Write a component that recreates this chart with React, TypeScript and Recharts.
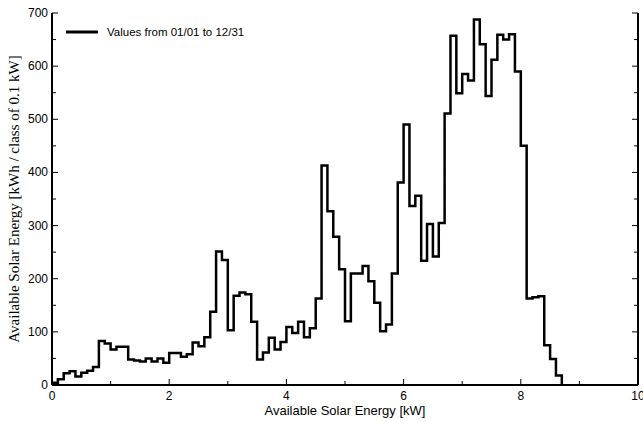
import React from 'react';
import { LineChart, Line, XAxis, YAxis, Legend } from 'recharts';

const binStarts = [
  0.0, 0.1, 0.2, 0.3, 0.4, 0.5, 0.6, 0.7, 0.8, 0.9,
  1.0, 1.1, 1.2, 1.3, 1.4, 1.5, 1.6, 1.7, 1.8, 1.9,
  2.0, 2.1, 2.2, 2.3, 2.4, 2.5, 2.6, 2.7, 2.8, 2.9,
  3.0, 3.1, 3.2, 3.3, 3.4, 3.5, 3.6, 3.7, 3.8, 3.9,
  4.0, 4.1, 4.2, 4.3, 4.4, 4.5, 4.6, 4.7, 4.8, 4.9,
  5.0, 5.1, 5.2, 5.3, 5.4, 5.5, 5.6, 5.7, 5.8, 5.9,
  6.0, 6.1, 6.2, 6.3, 6.4, 6.5, 6.6, 6.7, 6.8, 6.9,
  7.0, 7.1, 7.2, 7.3, 7.4, 7.5, 7.6, 7.7, 7.8, 7.9,
  8.0, 8.1, 8.2, 8.3, 8.4, 8.5, 8.6, 8.7,
];

const energyValues = [
  4, 11, 22, 26, 16, 23, 27, 34, 83, 78,
  67, 72, 72, 48, 46, 44, 50, 44, 50, 42,
  60, 60, 53, 58, 80, 73, 90, 138, 251, 235,
  103, 168, 174, 171, 119, 48, 61, 89, 67, 81,
  109, 98, 119, 90, 107, 163, 413, 327, 279, 218,
  120, 210, 210, 224, 195, 155, 101, 114, 210, 381,
  490, 337, 356, 234, 303, 242, 305, 511, 657, 549,
  585, 573, 688, 641, 544, 612, 659, 650, 660, 590,
  450, 163, 165, 167, 75, 49, 18, 0,
];

const xTicks = [0, 1, 2, 3, 4, 5, 6, 7, 8, 9, 10];
const yTicks = [0, 50, 100, 150, 200, 250, 300, 350, 400, 450, 500, 550, 600, 650, 700];

const seriesName = 'Values from 01/01 to 12/31';
const xTitle = 'Available Solar Energy [kW]';
const yTitle = 'Available Solar Energy [kWh / class of 0.1 kW]';

const data = binStarts.map((x, i) => ({ x, v: energyValues[i] }));

const SANS = '"Liberation Sans", Arial, sans-serif';
const SERIF = '"Liberation Serif", "Times New Roman", serif';

const BottomTick = (props: any) => {
  const { x, y, payload } = props;
  const major = payload.value % 2 === 0;
  return (
    <g>
      <line x1={x} y1={y} x2={x} y2={y - (major ? 6 : 4)} stroke="#000" strokeWidth={1} />
      {major && (
        <text x={x} y={y + 15} textAnchor="middle" fontSize={12} fontFamily={SANS} fill="#000">
          {payload.value}
        </text>
      )}
    </g>
  );
};

const TopTick = (props: any) => {
  const { x, y, payload } = props;
  const major = payload.value % 2 === 0;
  return <line x1={x} y1={y} x2={x} y2={y + (major ? 6 : 4)} stroke="#000" strokeWidth={1} />;
};

const LeftTick = (props: any) => {
  const { x, y, payload } = props;
  const major = payload.value % 100 === 0;
  return (
    <g>
      <line x1={x} y1={y} x2={x + (major ? 6 : 4)} y2={y} stroke="#000" strokeWidth={1} />
      {major && (
        <text x={x - 4} y={y + 4} textAnchor="end" fontSize={12} fontFamily={SANS} fill="#000">
          {payload.value}
        </text>
      )}
    </g>
  );
};

const RightTick = (props: any) => {
  const { x, y, payload } = props;
  const major = payload.value % 100 === 0;
  return <line x1={x} y1={y} x2={x - (major ? 6 : 4)} y2={y} stroke="#000" strokeWidth={1} />;
};

const XTitle = (props: any) => {
  const { viewBox } = props;
  return (
    <text
      x={viewBox.x + viewBox.width / 2}
      y={viewBox.y + 30}
      textAnchor="middle"
      fontSize={13}
      fontFamily={SANS}
      fill="#000"
    >
      {xTitle}
    </text>
  );
};

const YTitle = (props: any) => {
  const { viewBox } = props;
  const cx = viewBox.x + 14;
  const cy = viewBox.y + viewBox.height / 2;
  return (
    <text
      x={cx}
      y={cy}
      transform={`rotate(-90 ${cx} ${cy})`}
      textAnchor="middle"
      dominantBaseline="central"
      fontSize={15}
      fontFamily={SERIF}
      fill="#000"
    >
      {yTitle}
    </text>
  );
};

const LegendContent = () => (
  <div style={{ display: 'flex', alignItems: 'center', fontFamily: SANS, fontSize: 11.5, color: '#000' }}>
    <svg width={32} height={6} style={{ marginRight: 9 }}>
      <line x1={0} y1={3} x2={32} y2={3} stroke="#000" strokeWidth={3} />
    </svg>
    <span>{seriesName}</span>
  </div>
);

export default function App() {
  return (
    <div style={{ position: 'absolute', left: 0, top: 0, background: '#fff' }}>
      <LineChart width={643} height={421} data={data} margin={{ top: 13, right: 0, bottom: 0, left: 0 }}>
        <XAxis
          dataKey="x"
          type="number"
          domain={[0, 10]}
          ticks={xTicks}
          interval={0}
          allowDataOverflow
          height={36}
          tickSize={0}
          tickMargin={0}
          tickLine={false}
          axisLine={{ stroke: '#000', strokeWidth: 2 }}
          tick={<BottomTick />}
          label={<XTitle />}
        />
        <XAxis
          xAxisId="top"
          orientation="top"
          dataKey="x"
          type="number"
          domain={[0, 10]}
          ticks={xTicks}
          interval={0}
          allowDataOverflow
          height={0}
          tickSize={0}
          tickMargin={0}
          tickLine={false}
          axisLine={{ stroke: '#000', strokeWidth: 2 }}
          tick={<TopTick />}
        />
        <YAxis
          type="number"
          domain={[0, 700]}
          ticks={yTicks}
          interval={0}
          allowDataOverflow
          width={52}
          tickSize={0}
          tickMargin={0}
          tickLine={false}
          axisLine={{ stroke: '#000', strokeWidth: 2 }}
          tick={<LeftTick />}
          label={<YTitle />}
        />
        <YAxis
          yAxisId="right"
          orientation="right"
          type="number"
          domain={[0, 700]}
          ticks={yTicks}
          interval={0}
          allowDataOverflow
          width={5}
          tickSize={0}
          tickMargin={0}
          tickLine={false}
          axisLine={{ stroke: '#000', strokeWidth: 2 }}
          tick={<RightTick />}
        />
        <Legend
          layout="vertical"
          align="center"
          verticalAlign="middle"
          content={<LegendContent />}
          wrapperStyle={{ position: 'absolute', left: 66, top: 26, width: 'auto', height: 'auto' }}
        />
        <Line
          type="stepAfter"
          dataKey="v"
          name={seriesName}
          stroke="#000"
          strokeWidth={2.5}
          dot={false}
          activeDot={false}
          isAnimationActive={false}
        />
      </LineChart>
    </div>
  );
}
